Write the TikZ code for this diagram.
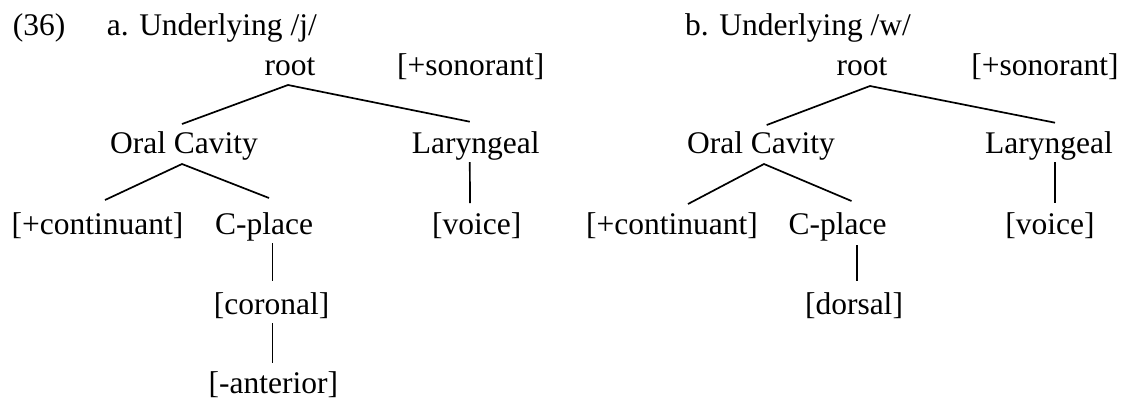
\documentclass[tikz,border=0pt]{standalone}
\usepackage{fontspec}
\setmainfont{Liberation Serif}
\usetikzlibrary{calc}
\begin{document}
\begin{tikzpicture}[x=1pt,y=-1pt,
  lab/.style={inner sep=0pt,anchor=base,font=\fontsize{31.5}{36}\selectfont},
  edge/.style={line width=1.7pt}]
\useasboundingbox (0,0) rectangle (1125,400);

% example number and titles
\node[lab,anchor=base west] (num) at (12.7,35) {(36)};
\node[lab,anchor=base west] (titleA) at (106.7,35) {a. Underlying /j/};
\node[lab,anchor=base west] (titleB) at (685,35) {b. Underlying /w/};

% tree (a): /j/
\node[lab] (rootA)  at (290,75)    {root};
\node[lab] (sonA)   at (470.8,75)  {[+sonorant]};
\node[lab] (ocA)    at (184,153)   {Oral Cavity};
\node[lab] (larA)   at (475.8,153) {Laryngeal};
\node[lab] (contA)  at (97.5,234)  {[+continuant]};
\node[lab] (cplA)   at (264,234)   {C-place};
\node[lab] (voiceA) at (476.7,234) {[voice]};
\node[lab] (corA)   at (271.7,314) {[coronal]};
\node[lab] (antA)   at (273.3,393) {[-anterior]};

\draw[edge] ($(ocA.base)+(-2,-29)$) -- ($(rootA.base)+(-2,10)$) -- ($(larA.base)+(-6,-31.3)$);
\draw[edge] ($(contA.base)+(7.5,-34)$) -- ($(ocA.base)+(-2,11)$) -- ($(cplA.base)+(5,-36)$);
\draw[edge] ($(larA.base)+(-6,9)$) -- ($(voiceA.base)+(-6.7,-31)$);
\draw[edge] ($(cplA.base)+(8.5,9)$) -- ($(corA.base)+(0.8,-33)$);
\draw[edge] ($(corA.base)+(0.8,9)$) -- ($(antA.base)+(-0.8,-30)$);

% tree (b): /w/
\node[lab] (rootB)  at (862,75)    {root};
\node[lab] (sonB)   at (1045,75)   {[+sonorant]};
\node[lab] (ocB)    at (761,153)   {Oral Cavity};
\node[lab] (larB)   at (1049,153)  {Laryngeal};
\node[lab] (contB)  at (672,234)   {[+continuant]};
\node[lab] (cplB)   at (837.5,234) {C-place};
\node[lab] (voiceB) at (1050,234)  {[voice]};
\node[lab] (dorB)   at (854,314)   {[dorsal]};

\draw[edge] ($(ocB.base)+(5.7,-28)$) -- ($(rootB.base)+(8,11)$) -- ($(larB.base)+(6,-30.3)$);
\draw[edge] ($(contB.base)+(16,-30)$) -- ($(ocB.base)+(3,11)$) -- ($(cplB.base)+(14,-33)$);
\draw[edge] ($(larB.base)+(6,9)$) -- ($(voiceB.base)+(5,-31)$);
\draw[edge] ($(cplB.base)+(19.2,11)$) -- ($(dorB.base)+(2.7,-33)$);
\end{tikzpicture}
\end{document}
